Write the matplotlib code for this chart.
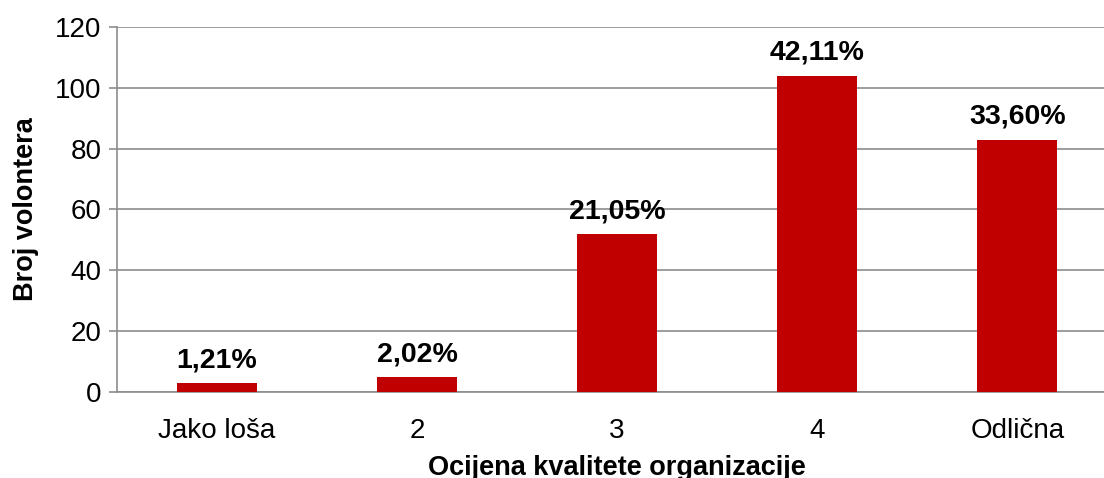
import matplotlib
matplotlib.use('Agg')
import matplotlib.pyplot as plt

plt.rcParams['font.family'] = ['Liberation Sans', 'DejaVu Sans']

categories = ['Jako loša', '2', '3', '4', 'Odlična']
counts = [3, 5, 52, 104, 83]
pct_labels = ['1,21%', '2,02%', '21,05%', '42,11%', '33,60%']
yticks = [0, 20, 40, 60, 80, 100, 120]

fig = plt.figure(figsize=(11.04, 4.78), dpi=100)
# plot area runs a little past the right edge of the canvas, as in the original
ax = fig.add_axes([0.106, 0.18, 0.906, 0.7635])

x = range(len(categories))
bars = ax.bar(x, counts, width=0.4, color='#C00000', zorder=3)

for b, lab in zip(bars, pct_labels):
    ax.annotate(lab, (b.get_x() + b.get_width() / 2, b.get_height()),
                xytext=(0, 7), textcoords='offset points',
                ha='center', va='bottom', fontsize=20.5, fontweight='bold')

ax.set_xlim(-0.5, len(categories) - 0.5)
ax.set_ylim(0, 120)
ax.set_yticks(yticks)
ax.set_xticks(list(x))
ax.set_xticklabels(categories)
ax.yaxis.grid(True, color='#8c8c8c', linewidth=1.2, zorder=0)
ax.tick_params(axis='y', length=6, color='#8c8c8c', width=1.2, labelsize=20, pad=5)
ax.tick_params(axis='x', length=0, labelsize=20, pad=19)

for s in ['top', 'right']:
    ax.spines[s].set_visible(False)
for s in ['left', 'bottom']:
    ax.spines[s].set_color('#8c8c8c')
    ax.spines[s].set_linewidth(1.2)

ax.set_ylabel('Broj volontera', fontsize=19.5, fontweight='bold', labelpad=12)
ax.set_xlabel('Ocijena kvalitete organizacije', fontsize=19.5, fontweight='bold', labelpad=8)

fig.savefig('out.png', dpi=100)
